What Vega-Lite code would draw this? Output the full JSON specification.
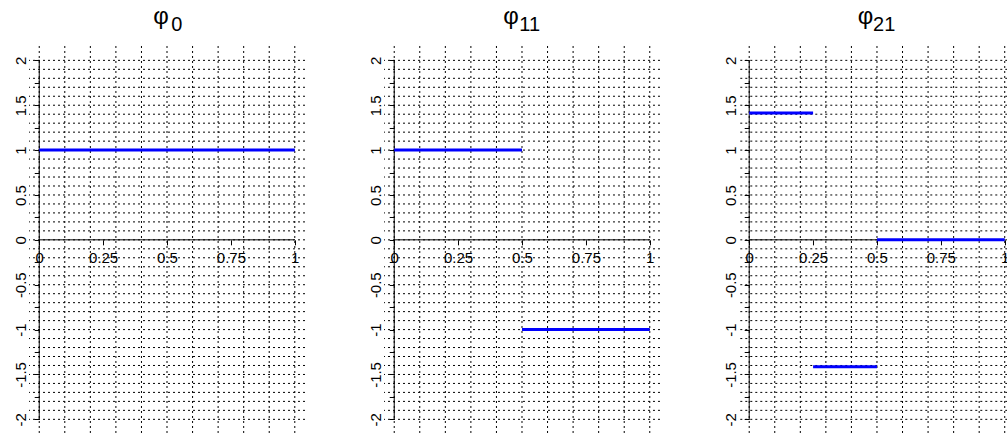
{
  "$schema": "https://vega.github.io/schema/vega-lite/v6.json",
  "autosize": {"type": "pad"},
  "padding": {"left": 13, "top": 5, "right": 0, "bottom": 0},
  "background": "white",
  "datasets": {
    "gx": [{"v":0},{"v":0.1},{"v":0.2},{"v":0.3},{"v":0.4},{"v":0.5},{"v":0.6},{"v":0.7},{"v":0.8},{"v":0.9},{"v":1}],
    "gy": [{"v":-2},{"v":-1.9},{"v":-1.8},{"v":-1.7},{"v":-1.6},{"v":-1.5},{"v":-1.4},{"v":-1.3},{"v":-1.2},{"v":-1.1},{"v":-1},{"v":-0.9},{"v":-0.8},{"v":-0.7},{"v":-0.6},{"v":-0.5},{"v":-0.4},{"v":-0.3},{"v":-0.2},{"v":-0.1},{"v":0},{"v":0.1},{"v":0.2},{"v":0.3},{"v":0.4},{"v":0.5},{"v":0.6},{"v":0.7},{"v":0.8},{"v":0.9},{"v":1},{"v":1.1},{"v":1.2},{"v":1.3},{"v":1.4},{"v":1.5},{"v":1.6},{"v":1.7},{"v":1.8},{"v":1.9},{"v":2}],
    "axh": [{"x0":0,"x1":1,"y":0}],
    "axv": [{"x":0,"y0":-2,"y1":2}],
    "seg": [
      {"f":"phi0","x0":0,"x1":1,"y":1},
      {"f":"phi11","x0":0,"x1":0.5,"y":1},
      {"f":"phi11","x0":0.5,"x1":1,"y":-1},
      {"f":"phi21","x0":0,"x1":0.25,"y":1.4142},
      {"f":"phi21","x0":0.25,"x1":0.5,"y":-1.4142},
      {"f":"phi21","x0":0.5,"x1":1,"y":0}
    ]
  },
  "config": {
    "view": {"stroke": null},
    "font": "Liberation Sans",
    "axis": {
      "domain": false, "grid": false, "title": null,
      "tickColor": "black", "tickSize": 5, "tickWidth": 1,
      "labelColor": "black", "labelFont": "Liberation Sans", "labelFontSize": 15,
      "labelOverlap": false, "labelFlush": false, "labelBound": false
    },
    "axisX": {"offset": -193.85, "labelPadding": 6},
    "axisY": {"offset": -10.22, "labelAngle": -90, "labelPadding": 6},
    "title": {
      "font": "Liberation Sans", "fontSize": 24, "fontWeight": "normal", "color": "black",
      "subtitleFont": "Liberation Sans", "subtitleFontSize": 20, "subtitleColor": "black",
      "anchor": "middle", "offset": 10, "subtitlePadding": -14
    }
  },
  "hconcat": [
    {
      "width": 276, "height": 387.7,
      "title": {"text": "φ", "subtitle": "\u200b\u00a0\u00a0\u00a0\u00a0\u00a0\u20090", "dx": -6},
      "layer": [
        {"data": {"name": "gx"}, "mark": {"type": "rule", "stroke": "black", "strokeWidth": 1, "strokeDash": [2, 3]},
         "encoding": {"x": {"field": "v", "type": "quantitative", "scale": {"domain": [-0.04, 1.04], "nice": false, "zero": false},
           "axis": {"values": [0, 0.25, 0.5, 0.75, 1], "labelExpr": "'' + datum.value"}}}},
        {"data": {"name": "gy"}, "mark": {"type": "rule", "stroke": "black", "strokeWidth": 1, "strokeDash": [2, 3]},
         "encoding": {"y": {"field": "v", "type": "quantitative", "scale": {"domain": [-2.16, 2.16], "nice": false, "zero": false},
           "axis": {"values": [-2,-1.75,-1.5,-1.25,-1,-0.75,-0.5,-0.25,0,0.25,0.5,0.75,1,1.25,1.5,1.75,2], "labelExpr": "datum.value % 0.5 == 0 ? '' + datum.value : ''"}}}},
        {"data": {"name": "axh"}, "mark": {"type": "rule", "stroke": "black", "strokeWidth": 1},
         "encoding": {"x": {"field": "x0", "type": "quantitative", "scale": {"domain": [-0.04, 1.04], "nice": false, "zero": false},
           "axis": {"values": [0, 0.25, 0.5, 0.75, 1], "labelExpr": "'' + datum.value"}}, "x2": {"field": "x1"},
           "y": {"field": "y", "type": "quantitative", "scale": {"domain": [-2.16, 2.16], "nice": false, "zero": false},
           "axis": {"values": [-2,-1.75,-1.5,-1.25,-1,-0.75,-0.5,-0.25,0,0.25,0.5,0.75,1,1.25,1.5,1.75,2], "labelExpr": "datum.value % 0.5 == 0 ? '' + datum.value : ''"}}}},
        {"data": {"name": "axv"}, "mark": {"type": "rule", "stroke": "black", "strokeWidth": 1},
         "encoding": {"x": {"field": "x", "type": "quantitative", "scale": {"domain": [-0.04, 1.04], "nice": false, "zero": false},
           "axis": {"values": [0, 0.25, 0.5, 0.75, 1], "labelExpr": "'' + datum.value"}},
           "y": {"field": "y0", "type": "quantitative", "scale": {"domain": [-2.16, 2.16], "nice": false, "zero": false},
           "axis": {"values": [-2,-1.75,-1.5,-1.25,-1,-0.75,-0.5,-0.25,0,0.25,0.5,0.75,1,1.25,1.5,1.75,2], "labelExpr": "datum.value % 0.5 == 0 ? '' + datum.value : ''"}}, "y2": {"field": "y1"}}},
        {"data": {"name": "seg"}, "transform": [{"filter": "datum.f == 'phi0'"}],
         "mark": {"type": "rule", "stroke": "#0000ff", "strokeWidth": 3},
         "encoding": {"x": {"field": "x0", "type": "quantitative", "scale": {"domain": [-0.04, 1.04], "nice": false, "zero": false},
           "axis": {"values": [0, 0.25, 0.5, 0.75, 1], "labelExpr": "'' + datum.value"}}, "x2": {"field": "x1"},
           "y": {"field": "y", "type": "quantitative", "scale": {"domain": [-2.16, 2.16], "nice": false, "zero": false},
           "axis": {"values": [-2,-1.75,-1.5,-1.25,-1,-0.75,-0.5,-0.25,0,0.25,0.5,0.75,1,1.25,1.5,1.75,2], "labelExpr": "datum.value % 0.5 == 0 ? '' + datum.value : ''"}}}}
      ]
    },
    {
      "width": 276, "height": 387.7,
      "title": {"text": "φ", "subtitle": "\u200b\u00a0\u00a0\u00a0\u00a0\u00a0\u00a0\u200911", "dx": -11},
      "layer": [
        {"data": {"name": "gx"}, "mark": {"type": "rule", "stroke": "black", "strokeWidth": 1, "strokeDash": [2, 3]},
         "encoding": {"x": {"field": "v", "type": "quantitative", "scale": {"domain": [-0.04, 1.04], "nice": false, "zero": false},
           "axis": {"values": [0, 0.25, 0.5, 0.75, 1], "labelExpr": "'' + datum.value"}}}},
        {"data": {"name": "gy"}, "mark": {"type": "rule", "stroke": "black", "strokeWidth": 1, "strokeDash": [2, 3]},
         "encoding": {"y": {"field": "v", "type": "quantitative", "scale": {"domain": [-2.16, 2.16], "nice": false, "zero": false},
           "axis": {"values": [-2,-1.75,-1.5,-1.25,-1,-0.75,-0.5,-0.25,0,0.25,0.5,0.75,1,1.25,1.5,1.75,2], "labelExpr": "datum.value % 0.5 == 0 ? '' + datum.value : ''"}}}},
        {"data": {"name": "axh"}, "mark": {"type": "rule", "stroke": "black", "strokeWidth": 1},
         "encoding": {"x": {"field": "x0", "type": "quantitative", "scale": {"domain": [-0.04, 1.04], "nice": false, "zero": false},
           "axis": {"values": [0, 0.25, 0.5, 0.75, 1], "labelExpr": "'' + datum.value"}}, "x2": {"field": "x1"},
           "y": {"field": "y", "type": "quantitative", "scale": {"domain": [-2.16, 2.16], "nice": false, "zero": false},
           "axis": {"values": [-2,-1.75,-1.5,-1.25,-1,-0.75,-0.5,-0.25,0,0.25,0.5,0.75,1,1.25,1.5,1.75,2], "labelExpr": "datum.value % 0.5 == 0 ? '' + datum.value : ''"}}}},
        {"data": {"name": "axv"}, "mark": {"type": "rule", "stroke": "black", "strokeWidth": 1},
         "encoding": {"x": {"field": "x", "type": "quantitative", "scale": {"domain": [-0.04, 1.04], "nice": false, "zero": false},
           "axis": {"values": [0, 0.25, 0.5, 0.75, 1], "labelExpr": "'' + datum.value"}},
           "y": {"field": "y0", "type": "quantitative", "scale": {"domain": [-2.16, 2.16], "nice": false, "zero": false},
           "axis": {"values": [-2,-1.75,-1.5,-1.25,-1,-0.75,-0.5,-0.25,0,0.25,0.5,0.75,1,1.25,1.5,1.75,2], "labelExpr": "datum.value % 0.5 == 0 ? '' + datum.value : ''"}}, "y2": {"field": "y1"}}},
        {"data": {"name": "seg"}, "transform": [{"filter": "datum.f == 'phi11'"}],
         "mark": {"type": "rule", "stroke": "#0000ff", "strokeWidth": 3},
         "encoding": {"x": {"field": "x0", "type": "quantitative", "scale": {"domain": [-0.04, 1.04], "nice": false, "zero": false},
           "axis": {"values": [0, 0.25, 0.5, 0.75, 1], "labelExpr": "'' + datum.value"}}, "x2": {"field": "x1"},
           "y": {"field": "y", "type": "quantitative", "scale": {"domain": [-2.16, 2.16], "nice": false, "zero": false},
           "axis": {"values": [-2,-1.75,-1.5,-1.25,-1,-0.75,-0.5,-0.25,0,0.25,0.5,0.75,1,1.25,1.5,1.75,2], "labelExpr": "datum.value % 0.5 == 0 ? '' + datum.value : ''"}}}}
      ]
    },
    {
      "width": 268.3, "height": 387.7,
      "title": {"text": "φ", "subtitle": "\u200b\u00a0\u00a0\u00a0\u00a0\u00a0\u00a0\u200921", "dx": -7.6},
      "layer": [
        {"data": {"name": "gx"}, "mark": {"type": "rule", "stroke": "black", "strokeWidth": 1, "strokeDash": [2, 3]},
         "encoding": {"x": {"field": "v", "type": "quantitative", "scale": {"domain": [-0.04, 1.01], "nice": false, "zero": false},
           "axis": {"values": [0, 0.25, 0.5, 0.75, 1], "labelExpr": "'' + datum.value"}}}},
        {"data": {"name": "gy"}, "mark": {"type": "rule", "stroke": "black", "strokeWidth": 1, "strokeDash": [2, 3]},
         "encoding": {"y": {"field": "v", "type": "quantitative", "scale": {"domain": [-2.16, 2.16], "nice": false, "zero": false},
           "axis": {"values": [-2,-1.75,-1.5,-1.25,-1,-0.75,-0.5,-0.25,0,0.25,0.5,0.75,1,1.25,1.5,1.75,2], "labelExpr": "datum.value % 0.5 == 0 ? '' + datum.value : ''"}}}},
        {"data": {"name": "axh"}, "mark": {"type": "rule", "stroke": "black", "strokeWidth": 1},
         "encoding": {"x": {"field": "x0", "type": "quantitative", "scale": {"domain": [-0.04, 1.01], "nice": false, "zero": false},
           "axis": {"values": [0, 0.25, 0.5, 0.75, 1], "labelExpr": "'' + datum.value"}}, "x2": {"field": "x1"},
           "y": {"field": "y", "type": "quantitative", "scale": {"domain": [-2.16, 2.16], "nice": false, "zero": false},
           "axis": {"values": [-2,-1.75,-1.5,-1.25,-1,-0.75,-0.5,-0.25,0,0.25,0.5,0.75,1,1.25,1.5,1.75,2], "labelExpr": "datum.value % 0.5 == 0 ? '' + datum.value : ''"}}}},
        {"data": {"name": "axv"}, "mark": {"type": "rule", "stroke": "black", "strokeWidth": 1},
         "encoding": {"x": {"field": "x", "type": "quantitative", "scale": {"domain": [-0.04, 1.01], "nice": false, "zero": false},
           "axis": {"values": [0, 0.25, 0.5, 0.75, 1], "labelExpr": "'' + datum.value"}},
           "y": {"field": "y0", "type": "quantitative", "scale": {"domain": [-2.16, 2.16], "nice": false, "zero": false},
           "axis": {"values": [-2,-1.75,-1.5,-1.25,-1,-0.75,-0.5,-0.25,0,0.25,0.5,0.75,1,1.25,1.5,1.75,2], "labelExpr": "datum.value % 0.5 == 0 ? '' + datum.value : ''"}}, "y2": {"field": "y1"}}},
        {"data": {"name": "seg"}, "transform": [{"filter": "datum.f == 'phi21'"}],
         "mark": {"type": "rule", "stroke": "#0000ff", "strokeWidth": 3},
         "encoding": {"x": {"field": "x0", "type": "quantitative", "scale": {"domain": [-0.04, 1.01], "nice": false, "zero": false},
           "axis": {"values": [0, 0.25, 0.5, 0.75, 1], "labelExpr": "'' + datum.value"}}, "x2": {"field": "x1"},
           "y": {"field": "y", "type": "quantitative", "scale": {"domain": [-2.16, 2.16], "nice": false, "zero": false},
           "axis": {"values": [-2,-1.75,-1.5,-1.25,-1,-0.75,-0.5,-0.25,0,0.25,0.5,0.75,1,1.25,1.5,1.75,2], "labelExpr": "datum.value % 0.5 == 0 ? '' + datum.value : ''"}}}}
      ]
    }
  ],
  "spacing": 79,
  "bounds": "flush"
}
